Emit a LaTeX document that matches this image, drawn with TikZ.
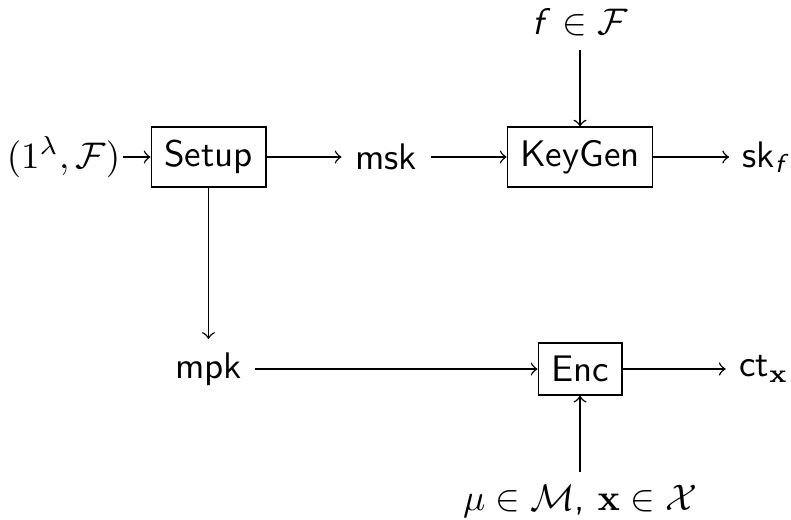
\documentclass[tikz,border=0pt]{standalone}
\usepackage{amsmath,amssymb}
\begin{document}
\begin{tikzpicture}[x=0.2703pt,y=-0.2703pt,
  every node/.style={font=\sffamily, inner sep=3.5pt},
  algbox/.style={draw, line width=0.4pt, inner sep=3.5pt},
  flow/.style={->, line width=0.4pt}]
\useasboundingbox (0,0) rectangle (791,519);

% algorithms
\node[algbox] (setup)  at (208.5,157) {Setup};
\node[algbox] (keygen) at (580,157)   {KeyGen};
\node[algbox] (enc)    at (580,369)   {Enc};

% inputs and outputs
\node[inner sep=0.5pt] (in) at (63.5,157) {$(1^\lambda,\mathcal{F})$};
\node (msk) at (386,157) {msk};
\node (skf) at (764,157) {sk$_{\textsf{\itshape f}}$};
\node[anchor=south] (fn) at (580,50) {\textsf{\itshape f} $\in\mathcal{F}$};
\node (mpk) at (208.5,369) {mpk};
\node (ct) at (764,369) {ct$_{\mathbf{x}}$};
\node[anchor=north] (msg) at (580,472) {$\mu\in\mathcal{M}$, $\mathbf{x}\in\mathcal{X}$};

% connectors
\draw[flow] (in) -- (setup);
\draw[flow] (setup) -- (msk);
\draw[flow] (msk) -- (keygen);
\draw[flow] (keygen) -- (skf);
\draw[flow] (fn) -- (keygen);
\draw[flow] (setup) -- (mpk);
\draw[flow] (mpk) -- (enc);
\draw[flow] (enc) -- (ct);
\draw[flow] (msg) -- (enc);
\end{tikzpicture}
\end{document}
